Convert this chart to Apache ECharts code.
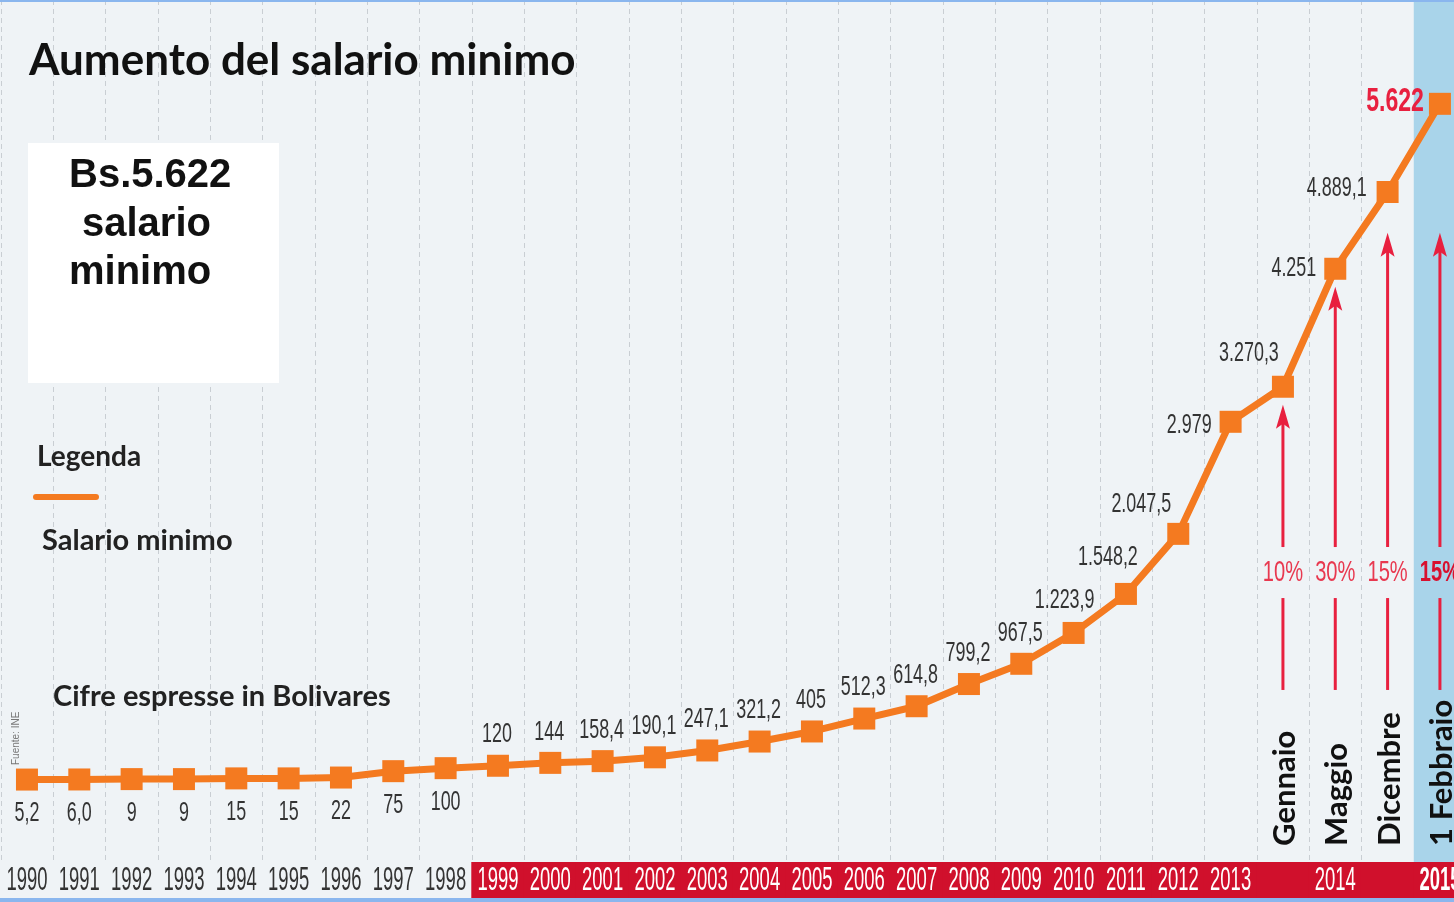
<!DOCTYPE html>
<html>
<head>
<meta charset="utf-8">
<title>Aumento del salario minimo</title>
<script src="https://cdn.jsdelivr.net/npm/echarts@6/dist/echarts.min.js"></script>
<style>
html, body { margin: 0; padding: 0; background: #eff3f6; }
#main { width: 1454px; height: 902px; }
</style>
</head>
<body>
<div id="main"></div>
<script>
// dati
var categories = ['1990', '1991', '1992', '1993', '1994', '1995', '1996', '1997', '1998', '1999',
    '2000', '2001', '2002', '2003', '2004', '2005', '2006', '2007', '2008', '2009', '2010',
    '2011', '2012', '2013', 'Gennaio 2014', 'Maggio 2014', 'Dicembre 2014', '1 Febbraio 2015'];
var tickLabels = ['1990', '1991', '1992', '1993', '1994', '1995', '1996', '1997', '1998', '1999',
    '2000', '2001', '2002', '2003', '2004', '2005', '2006', '2007', '2008', '2009', '2010',
    '2011', '2012', '2013', '', '2014', '', '2015'];
var salario = [5.2, 6.0, 9, 9, 15, 15, 22, 75, 100, 120, 144, 158.4, 190.1, 247.1, 321.2, 405,
    512.3, 614.8, 799.2, 967.5, 1223.9, 1548.2, 2047.5, 2979, 3270.3, 4251, 4889.1, 5622];
var valueLabels = ['5,2', '6,0', '9', '9', '15', '15', '22', '75', '100', '120', '144', '158,4',
    '190,1', '247,1', '321,2', '405', '512,3', '614,8', '799,2', '967,5', '1.223,9', '1.548,2',
    '2.047,5', '2.979', '3.270,3', '4.251', '4.889,1', '5.622'];
var aumenti = ['Gennaio 2014', 'Maggio 2014', 'Dicembre 2014', '1 Febbraio 2015'];
var aumentiPct = ['10%', '30%', '15%', '15%'];
var aumentiMese = ['Gennaio', 'Maggio', 'Dicembre', '1 Febbraio'];

var ORANGE = '#f47a20';
var RED = '#e8203f';
var BAND_RED = '#d0102c';
var SANS = "'Liberation Sans', Arial, sans-serif";
var PRIMO_ROSSO = categories.indexOf('1999');

// dove mettere le etichette dei valori (offset in px dal punto)
var spostaSx = { 20: -9, 21: -18, 22: -37, 24: -34 };
var spostaSu = { 20: -33, 21: -37, 22: -30, 24: -33 };
var aSinistra = { 23: [-19, 3], 25: [-19, 0], 26: [-21, -4], 27: [-16, -2] };
function posizione(i) {
    if (i < 9) return { dx: 0, dy: 34, align: 'center' };
    if (aSinistra[i]) return { dx: aSinistra[i][0], dy: aSinistra[i][1], align: 'right' };
    if (spostaSx[i]) return { dx: spostaSx[i], dy: spostaSu[i], align: 'center' };
    return { dx: -1, dy: -31, align: 'center' };
}

// etichette dei valori, anni e banda rossa
function etichetta(params, api) {
    var i = api.value(0);
    var p = api.coord([i, api.value(1)]);
    var cs = params.coordSys;
    var band = api.size([1, 0])[0];
    var bottom = cs.y + cs.height;
    var last = i === categories.length - 1;
    var pos = posizione(i);
    var out = [];
    if (i >= PRIMO_ROSSO) {
        out.push({ type: 'rect', shape: { x: p[0] - band / 2 - 0.5, y: bottom, width: band + 1, height: 36 },
            style: { fill: BAND_RED } });
    }
    out.push({ type: 'text', x: p[0], y: bottom + 19, scaleX: 0.56,
        style: { text: tickLabels[i], font: (last ? 'bold ' : '') + '33px ' + SANS,
                 fill: i >= PRIMO_ROSSO ? '#fff' : '#333', align: 'center', verticalAlign: 'middle' } });
    out.push({ type: 'text', x: p[0] + pos.dx, y: p[1] + pos.dy, scaleX: last ? 0.7 : 0.64,
        style: { text: valueLabels[i], font: last ? 'bold 33px ' + SANS : '28px ' + SANS,
                 fill: last ? RED : '#333', align: pos.align, verticalAlign: 'middle' } });
    return { type: 'group', children: out };
}

// frecce degli aumenti 2014-2015, con la colonna azzurra del 2015
var BASE = 750, GAP_LO = 1514, GAP_HI = 1938, CAP = 4550, MESE = -546;
function freccia(params, api) {
    var i = api.value(0), v = api.value(1), k = params.dataIndex;
    var cs = params.coordSys;
    var band = api.size([1, 0])[0];
    var x = api.coord([i, v])[0];
    var yTip = api.coord([i, Math.min(v - 150, CAP)])[1];
    var yBase = api.coord([i, BASE])[1];
    var yLo = api.coord([i, GAP_LO])[1];
    var yHi = api.coord([i, GAP_HI])[1];
    var yMese = api.coord([i, MESE])[1];
    var last = k === aumenti.length - 1;
    var out = [];
    if (last) {
        out.push({ type: 'rect', shape: { x: x - band / 2, y: cs.y, width: band, height: cs.height },
            style: { fill: '#a9d4ea' } });
    }
    out.push(
        { type: 'line', shape: { x1: x, y1: yBase, x2: x, y2: yLo }, style: { stroke: RED, lineWidth: 3 } },
        { type: 'line', shape: { x1: x, y1: yHi, x2: x, y2: yTip + 18 }, style: { stroke: RED, lineWidth: 3 } },
        { type: 'polygon', shape: { points: [[x, yTip], [x + 7, yTip + 24], [x, yTip + 19], [x - 7, yTip + 24]] },
          style: { fill: RED } },
        { type: 'text', x: x, y: (yLo + yHi) / 2, scaleX: 0.67,
          style: { text: aumentiPct[k], font: (last ? 'bold ' : '') + '30px ' + SANS,
                   fill: last ? '#d8102e' : '#e8384f', align: 'center', verticalAlign: 'middle' } },
        { type: 'text', x: x + 2, y: yMese, rotation: Math.PI / 2,
          style: { text: aumentiMese[k], font: 'bold 31px Lato', fill: '#111', align: 'left', verticalAlign: 'middle' } }
    );
    return { type: 'group', children: out };
}

var chart = echarts.init(document.getElementById('main'));
chart.setOption({
    backgroundColor: '#eff3f6',
    animation: false,
    title: {
        text: 'Aumento del salario minimo',
        left: 24, top: 34,
        textStyle: { fontFamily: 'Lato', fontWeight: 'bold', fontSize: 44, color: '#111' }
    },
    grid: { left: 0.8, right: -12.1, top: 0, bottom: 40, outerBoundsMode: 'none' },
    xAxis: {
        type: 'category',
        data: categories,
        boundaryGap: true,
        axisLine: { show: false },
        axisTick: { show: false },
        axisLabel: { show: false },
        splitLine: { show: true, interval: 0, lineStyle: { type: [5, 4], color: '#c9ced3', width: 1 } }
    },
    yAxis: {
        type: 'value',
        min: -680,
        max: 6485,
        show: false,
        splitLine: { show: false }
    },
    series: [{
        type: 'line',
        name: 'Salario minimo',
        data: salario,
        symbol: 'rect',
        symbolSize: 22,
        lineStyle: { color: ORANGE, width: 7 },
        itemStyle: { color: ORANGE },
        z: 5
    }, {
        type: 'custom',
        name: 'etichette',
        clip: false,
        silent: true,
        z: 6,
        data: salario.map(function (v, i) { return [i, v]; }),
        renderItem: etichetta
    }, {
        type: 'custom',
        name: 'aumenti',
        clip: false,
        silent: true,
        z: 4,
        data: aumenti.map(function (c) { var i = categories.indexOf(c); return [i, salario[i]]; }),
        renderItem: freccia
    }],
    graphic: [
        { type: 'rect', shape: { x: 0, y: 0, width: 1454, height: 2 }, style: { fill: '#8ab6ee' }, z: 100 },
        { type: 'rect', shape: { x: 0, y: 898, width: 1454, height: 4 }, style: { fill: '#8ab6ee' }, z: 100 },
        { type: 'rect', shape: { x: 28, y: 143, width: 251, height: 240 }, style: { fill: '#ffffff' }, z: 10 },
        { type: 'text', x: 69, y: 176, z: 11, style: { text: 'Bs.5.622', font: 'bold 40px ' + SANS, fill: '#111', textVerticalAlign: 'middle' } },
        { type: 'text', x: 82, y: 225, z: 11, style: { text: 'salario', font: 'bold 40px ' + SANS, fill: '#111', textVerticalAlign: 'middle' } },
        { type: 'text', x: 69, y: 273, z: 11, style: { text: 'minimo', font: 'bold 40px ' + SANS, fill: '#111', textVerticalAlign: 'middle' } },
        { type: 'text', x: 37, y: 457, z: 11, style: { text: 'Legenda', font: 'bold 28px Lato', fill: '#222', textVerticalAlign: 'middle' } },
        { type: 'rect', shape: { x: 33, y: 494, width: 66, height: 6, r: 3 }, style: { fill: ORANGE }, z: 11 },
        { type: 'text', x: 42, y: 541, z: 11, style: { text: 'Salario minimo', font: 'bold 29px Lato', fill: '#222', textVerticalAlign: 'middle' } },
        { type: 'text', x: 53, y: 697, z: 11, style: { text: 'Cifre espresse in Bolivares', font: 'bold 29px Lato', fill: '#222', textVerticalAlign: 'middle' } },
        { type: 'text', x: 16, y: 765, rotation: Math.PI / 2, z: 11, style: { text: 'Fuente: INE', font: '10px ' + SANS, fill: '#777', textVerticalAlign: 'middle' } }
    ]
});
</script>
</body>
</html>
